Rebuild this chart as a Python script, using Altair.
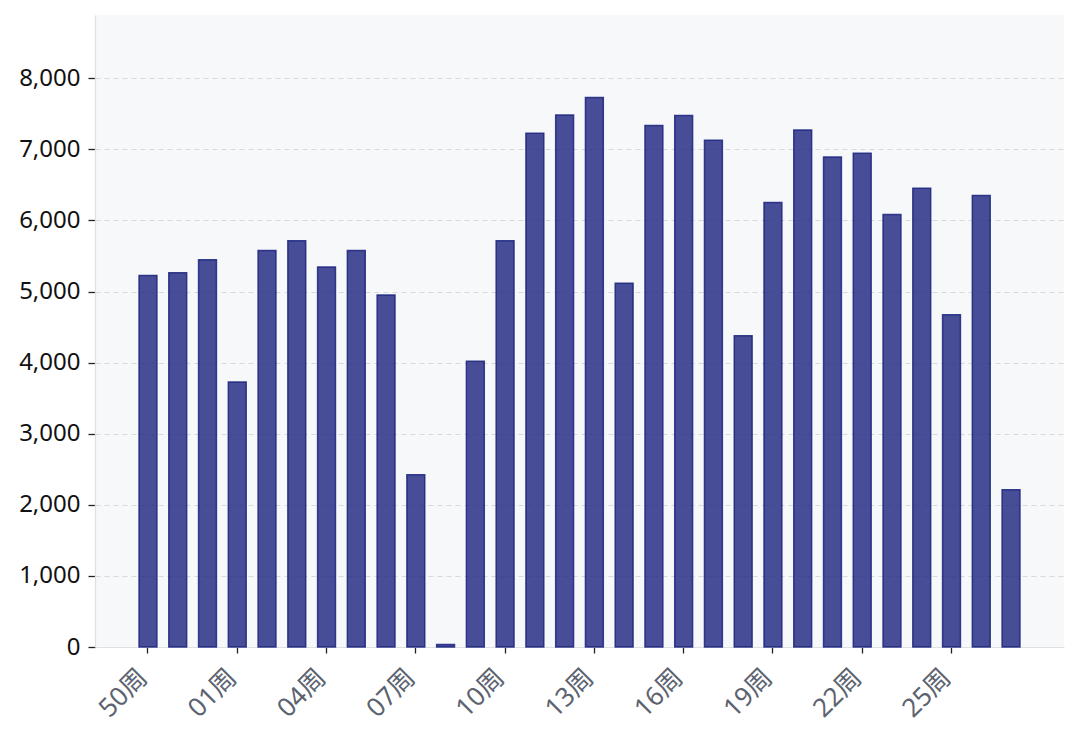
import altair as alt
import pandas as pd

weeks = ["50周", "51周", "52周", "01周", "02周", "03周", "04周", "05周", "06周", "07周",
         "08周", "09周", "10周", "11周", "12周", "13周", "14周", "15周", "16周", "17周",
         "18周", "19周", "20周", "21周", "22周", "23周", "24周", "25周", "26周", "27周"]
values = [5225, 5263, 5446, 3726, 5577, 5713, 5347, 5577, 4950, 2422,
          35, 4021, 5713, 7228, 7485, 7729, 5115, 7335, 7475, 7129,
          4377, 6252, 7274, 6894, 6946, 6083, 6454, 4672, 6350, 2211]
tick_weeks = ["50周", "01周", "04周", "07周", "10周", "13周", "16周", "19周", "22周", "25周"]
y_ticks = [0, 1000, 2000, 3000, 4000, 5000, 6000, 7000, 8000]

df = pd.DataFrame({"week": weeks, "value": values})

# empty slots at both ends of the band domain give the wide outer margin
x_domain = [" "] + weeks + ["  "]

FONT = "Noto Sans, Noto Sans CJK SC, sans-serif"

chart = alt.Chart(df).mark_bar(
    color="#1a237e", fillOpacity=0.8, stroke="#1a237e", strokeOpacity=0.85, strokeWidth=1.5
).encode(
    x=alt.X("week:N",
            scale=alt.Scale(domain=x_domain, paddingInner=0.4, paddingOuter=0.48),
            axis=alt.Axis(title=None, values=tick_weeks, labelAngle=-45,
                          labelAlign="right", labelBaseline="top",
                          labelFontSize=26, labelColor="#5c6370", labelFont=FONT,
                          tickColor="#222222", tickSize=6, tickWidth=1.3,
                          domainColor="#e0e0e0", domainWidth=1.2,
                          labelPadding=11, labelOffset=-14,
                          grid=False)),
    y=alt.Y("value:Q", scale=alt.Scale(domain=[0, 8890], nice=False),
            axis=alt.Axis(title=None, values=y_ticks,
                          format=",.0f", labelFontSize=24, labelColor="#111111", labelFont=FONT,
                          tickColor="#222222", tickSize=7, tickWidth=1.3,
                          domainColor="#e0e0e0", domainWidth=1.2, labelPadding=8,
                          grid=True, gridColor="#d9d9d9", gridDash=[5, 4], gridWidth=1))
).properties(
    width=969, height=632,
    autosize=alt.AutoSizeParams(type="none"),
    padding={"left": 87, "top": 7, "right": 8, "bottom": 80},
    background="white",
).configure_view(
    fill="#f7f8fa", stroke=None
)

chart.save("out.html", embed_options={"renderer": "svg", "actions": False})
